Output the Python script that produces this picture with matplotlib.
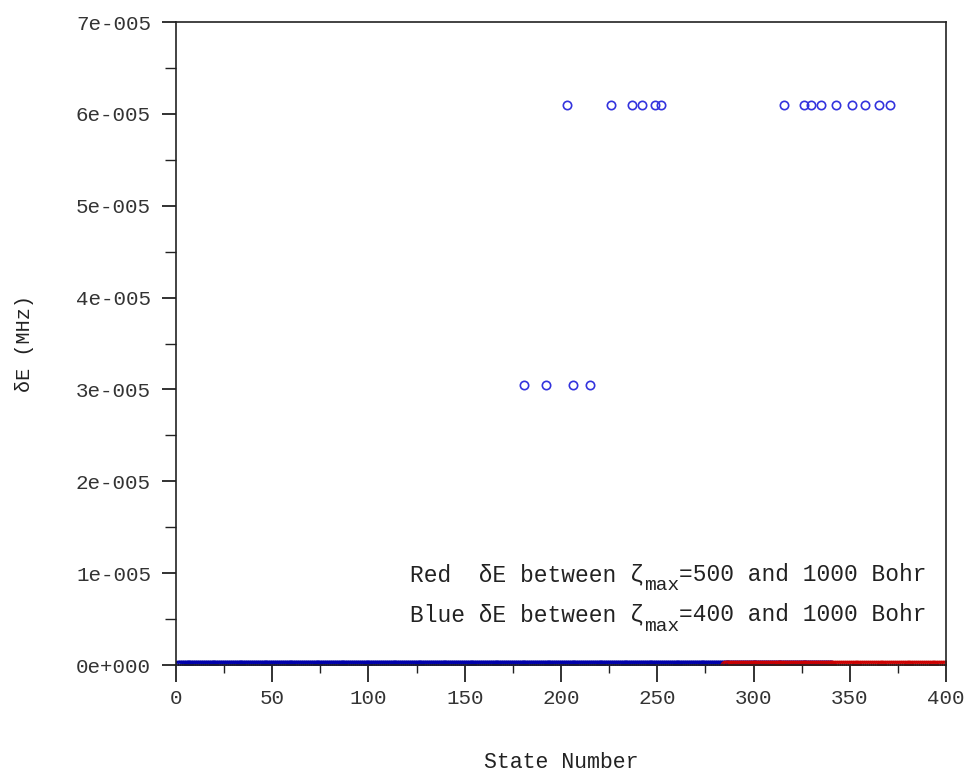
import numpy as np
import matplotlib
matplotlib.use('Agg')
from matplotlib import pyplot as plt
from matplotlib.ticker import MultipleLocator, FuncFormatter

plt.rcParams['font.family'] = ['Liberation Mono', 'DejaVu Sans Mono']

# blue: zeta_max 400 vs 1000, red: zeta_max 500 vs 1000
blue_states = np.arange(1, 341)
blue_dE = np.zeros(len(blue_states))
red_states = np.arange(285, 401)
red_dE = np.zeros(len(red_states))

blue_hi_states = [203, 226, 237, 242, 249, 252, 316, 326, 330, 335, 343, 351, 358, 365, 371]
blue_hi_dE = [6.1e-5] * len(blue_hi_states)
blue_mid_states = [181, 192, 206, 215]
blue_mid_dE = [3.05e-5] * len(blue_mid_states)

fig = plt.figure(figsize=(9.68, 7.73), dpi=100)
ax = fig.add_axes([0.1818, 0.1397, 0.7955, 0.8318])

ax.plot(blue_states, blue_dE, 'o', mfc='none', mec='#0000aa', ms=6, mew=1.2)
ax.plot(red_states, red_dE, 'o', mfc='none', mec='#cc0000', ms=6, mew=1)
ax.plot(blue_hi_states, blue_hi_dE, 'o', mfc='none', mec='#3333dd', ms=6, mew=1.2)
ax.plot(blue_mid_states, blue_mid_dE, 'o', mfc='none', mec='#3333dd', ms=6, mew=1.2)

ax.set_xlim(0, 400)
ax.set_ylim(0, 7e-5)
ax.xaxis.set_major_locator(MultipleLocator(50))
ax.xaxis.set_minor_locator(MultipleLocator(25))
ax.yaxis.set_major_locator(MultipleLocator(1e-5))
ax.yaxis.set_minor_locator(MultipleLocator(5e-6))


def sci(v, pos):
    if abs(v) < 1e-12:
        return '0e+000'
    m, e = ('%.0e' % v).split('e')
    return '%se%s%03d' % (m, '-' if int(e) < 0 else '+', abs(int(e)))


ax.yaxis.set_major_formatter(FuncFormatter(sci))
ax.tick_params(which='both', direction='out', labelsize=15, colors='#222222',
               labelcolor='#333333')
ax.tick_params(axis='x', which='major', length=12, width=1.3, pad=5)
ax.tick_params(axis='x', which='minor', length=6, width=1)
ax.tick_params(axis='y', which='major', length=10, width=1.3, pad=8)
ax.tick_params(axis='y', which='minor', length=8, width=1)
for s in ax.spines.values():
    s.set_linewidth(1.2)
    s.set_color('#222222')

ax.set_xlabel('State Number', fontsize=15.5, labelpad=32, color='#222222')
ax.set_ylabel('δE (MHz)', fontsize=14.5, labelpad=30, color='#222222')


def note(y, head, tail):
    fs = 16.5
    t3 = ax.text(0.975, y, tail, transform=ax.transAxes, ha='right',
                 va='baseline', fontsize=fs, color='#222222')
    t2 = ax.annotate('max', xy=(0, 0), xycoords=(t3, t3), xytext=(0, -6),
                     textcoords='offset points', ha='right', va='bottom',
                     fontsize=fs * 0.85, color='#222222')
    ax.annotate(head, xy=(0, 0), xycoords=(t2, t3), ha='right', va='bottom',
                fontsize=fs, color='#222222')


note(0.131, 'Red  δE between ζ', '=500 and 1000 Bohr')
note(0.068, 'Blue δE between ζ', '=400 and 1000 Bohr')

fig.savefig('out.png', dpi=100)
